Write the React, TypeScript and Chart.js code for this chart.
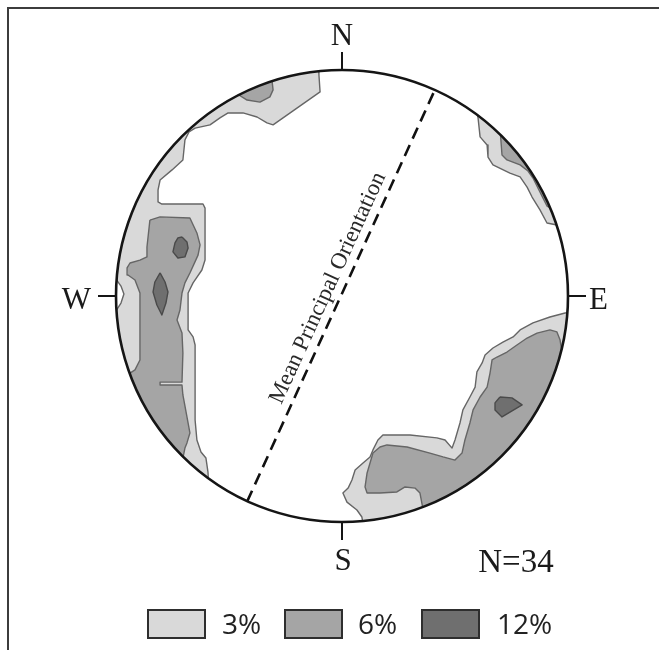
import { useEffect, useRef } from 'react';
import { Chart, registerables } from 'chart.js';

Chart.register(...registerables);

type P = [number, number];

// Stereonet coordinates: primitive circle radius = 100, x = east, y = north.
// Contour polygons may extend past the primitive; they are clipped to it.
const contour3West: P[] = [
  [-10.6, 104.4], [-10.2, 97.8], [-9.7, 90.3], [-30.5, 75.7], [-33.2, 76.6], [-37.6, 79.2],
  [-43.8, 81.0], [-50.4, 81.0], [-54.0, 78.8], [-58.4, 75.7], [-65.0, 74.3], [-67.7, 72.6],
  [-69.5, 69.0], [-70.4, 60.2], [-75.2, 55.8], [-80.5, 51.3], [-81.4, 46.9], [-81.4, 41.6],
  [-79.7, 40.7], [-61.5, 40.7], [-60.6, 38.9], [-60.6, 15.9], [-62.0, 11.5], [-65.9, 5.8],
  [-68.1, 1.3], [-68.1, -15.0], [-65.9, -18.1], [-65.0, -21.7], [-65.0, -54.9], [-64.2, -63.7],
  [-62.4, -69.0], [-60.2, -71.7], [-59.3, -77.9], [-58.9, -85.8], [-85.0, -81.4], [-107.0, -46.0],
  [-103.5, -9.7], [-100.0, -6.6], [-97.8, -3.1], [-96.5, 0.9], [-97.8, 4.4], [-100.0, 7.5],
  [-103.5, 9.7], [-111.5, 42.5], [-93.8, 82.3], [-62.8, 113.3], [-10.6, 113.3],
];
const contour3NE: P[] = [
  [61.1, 86.7], [59.3, 83.2], [60.2, 78.8], [61.1, 70.4], [64.2, 66.8], [64.6, 61.5], [66.8, 58.0],
  [74.3, 54.4], [78.8, 52.7], [81.9, 48.2], [84.1, 43.8], [87.6, 38.1], [90.7, 32.3], [95.1, 31.4],
  [100.9, 31.4], [96.5, 77.9],
];
const contour3SE: P[] = [
  [103.1, -7.1], [98.7, -7.5], [92.0, -9.3], [84.5, -11.9], [78.8, -15.0], [75.7, -18.1],
  [71.2, -20.4], [66.8, -23.0], [63.3, -26.1], [62.0, -29.6], [59.7, -33.6], [58.9, -40.3],
  [56.6, -44.7], [53.5, -50.4], [52.2, -56.2], [50.0, -63.7], [48.7, -67.3], [45.6, -63.7],
  [42.0, -62.8], [30.1, -61.5], [18.1, -61.5], [15.9, -63.7], [13.7, -68.1], [12.4, -71.2],
  [9.3, -73.9], [5.8, -77.0], [4.4, -81.4], [2.7, -85.0], [0.4, -87.2], [2.2, -91.2],
  [6.6, -94.7], [8.8, -97.8], [10.2, -105.8], [61.1, -90.3], [96.5, -54.9], [107.5, -15.0],
];
const contour6North: P[] = [
  [-49.6, 97.8], [-46.5, 89.5], [-42.0, 86.7], [-36.3, 85.8], [-31.9, 88.1], [-30.5, 91.2],
  [-31.0, 95.6], [-29.6, 104.4], [-49.6, 104.0],
];
const contour6West: P[] = [
  [-85.0, 33.6], [-80.5, 35.0], [-67.3, 34.5], [-64.2, 27.9], [-62.8, 22.6], [-63.7, 18.1],
  [-67.3, 10.2], [-69.5, 5.8], [-70.8, 1.3], [-71.7, -6.2], [-73.0, -10.6], [-70.8, -16.4],
  [-70.4, -25.2], [-70.8, -38.1], [-80.5, -38.1], [-80.5, -39.4], [-70.8, -39.4], [-70.4, -43.8],
  [-68.6, -53.5], [-67.3, -60.6], [-68.6, -65.0], [-69.5, -67.3], [-70.4, -71.7], [-76.1, -79.2],
  [-102.7, -46.0], [-95.6, -34.5], [-93.8, -34.1], [-91.6, -32.7], [-89.4, -28.3], [-89.4, 1.3],
  [-91.6, 7.1], [-94.7, 9.3], [-95.1, 12.4], [-93.8, 14.6], [-89.4, 15.9], [-86.3, 17.3],
  [-86.3, 21.7],
];
const contour6NE: P[] = [
  [78.8, 77.9], [70.0, 73.0], [70.8, 62.4], [73.0, 60.2], [78.8, 58.0], [82.3, 55.3], [84.5, 52.2],
  [86.7, 47.8], [88.9, 43.4], [90.7, 39.8], [98.7, 35.8], [90.0, 60.0],
];
const contour6SE: P[] = [
  [107.5, -26.1], [97.5, -26.0], [96.5, -19.5], [95.1, -15.9], [92.0, -15.0], [86.3, -16.4],
  [81.9, -18.6], [77.4, -21.7], [73.0, -24.8], [68.6, -27.0], [66.4, -28.3], [65.5, -34.1],
  [64.2, -40.3], [61.1, -44.7], [58.0, -50.4], [56.6, -56.2], [54.4, -63.7], [53.1, -69.5],
  [50.0, -72.6], [44.7, -71.2], [38.9, -69.5], [28.8, -66.8], [19.9, -65.9], [16.8, -66.8],
  [13.7, -69.5], [12.4, -73.9], [11.1, -78.3], [10.2, -84.5], [11.1, -87.2], [16.8, -87.2],
  [24.3, -86.7], [27.9, -84.5], [32.3, -85.0], [34.5, -87.2], [35.4, -92.0], [36.7, -99.1],
  [80.0, -75.0], [108.0, -40.0],
];
const contour12WestA: P[] = [
  [-70.8, 26.1], [-68.6, 23.9], [-68.1, 21.2], [-69.5, 17.3], [-72.6, 16.8], [-74.8, 19.5],
  [-73.9, 23.5], [-72.6, 25.7],
];
const contour12WestB: P[] = [
  [-80.5, 10.2], [-78.3, 6.2], [-77.0, 1.8], [-77.9, -3.1], [-79.7, -8.4], [-81.9, -4.0],
  [-83.6, 1.8], [-82.8, 6.2],
];
const contour12SE: P[] = [
  [69.9, -44.7], [75.2, -45.1], [79.7, -48.2], [70.8, -53.5], [67.7, -50.4], [67.7, -47.3],
];
const meanOrientation: P[] = [[-42, -91], [41, 91]];
const meanLabelAnchor: P = [-6.2, 3.5];

const levelLabels = ['3%', '6%', '12%'];
const levelColors = ['#d9d9d9', '#a5a5a5', '#6f6f6f'];
const compassLabels = ['N', 'E', 'S', 'W'];
const sampleLabel = 'N=34';
const meanLabel = 'Mean Principal Orientation';

const W = 659;
const H = 650;

function poly(pts: P[], level: number) {
  const data = pts.map(([x, y]) => ({ x, y }));
  data.push({ x: pts[0][0], y: pts[0][1] });
  return {
    data,
    polyFill: levelColors[level],
    borderColor: level === 2 ? '#4a4a4a' : '#666666',
    borderWidth: 1.4,
    borderJoinStyle: 'round',
    pointRadius: 0,
    pointHoverRadius: 0,
    fill: false,
    tension: 0,
    order: 10 - level * 3,
  };
}

function geom(chart: any) {
  const xs = chart.scales.x;
  const ys = chart.scales.y;
  const cx = xs.getPixelForValue(0);
  const cy = ys.getPixelForValue(0);
  const r = xs.getPixelForValue(100) - cx;
  return { cx, cy, r, xs, ys };
}

const stereoPlugin = {
  id: 'stereo',
  beforeDraw(chart: any) {
    const ctx = chart.ctx;
    ctx.save();
    ctx.strokeStyle = '#3c3c3c';
    ctx.lineWidth = 2;
    ctx.beginPath();
    ctx.moveTo(8, H);
    ctx.lineTo(8, 8);
    ctx.lineTo(W, 8);
    ctx.stroke();
    ctx.restore();
  },
  beforeDatasetDraw(chart: any, args: any) {
    const ctx = chart.ctx;
    const { cx, cy, r } = geom(chart);
    ctx.save();
    ctx.beginPath();
    ctx.arc(cx, cy, r, 0, Math.PI * 2);
    ctx.clip();
    const ds = chart.data.datasets[args.index];
    if (ds.polyFill) {
      ctx.beginPath();
      args.meta.data.forEach((p: any, i: number) => {
        if (i === 0) ctx.moveTo(p.x, p.y);
        else ctx.lineTo(p.x, p.y);
      });
      ctx.closePath();
      ctx.fillStyle = ds.polyFill;
      ctx.fill();
    }
  },
  afterDatasetDraw(chart: any) {
    chart.ctx.restore();
  },
  afterDatasetsDraw(chart: any) {
    const ctx = chart.ctx;
    const { cx, cy, r, xs, ys } = geom(chart);
    ctx.save();
    // primitive circle
    ctx.strokeStyle = '#151515';
    ctx.lineWidth = 2.6;
    ctx.beginPath();
    ctx.arc(cx, cy, r, 0, Math.PI * 2);
    ctx.stroke();
    // compass ticks
    const tick = 18;
    ctx.lineWidth = 2;
    ctx.beginPath();
    ctx.moveTo(cx, cy - r); ctx.lineTo(cx, cy - r - tick);
    ctx.moveTo(cx, cy + r); ctx.lineTo(cx, cy + r + tick);
    ctx.moveTo(cx - r, cy); ctx.lineTo(cx - r - tick, cy);
    ctx.moveTo(cx + r, cy); ctx.lineTo(cx + r + tick, cy);
    ctx.stroke();
    // compass labels
    ctx.fillStyle = '#1a1a1a';
    ctx.font = '31px "Liberation Serif", "Times New Roman", serif';
    ctx.textBaseline = 'alphabetic';
    ctx.textAlign = 'center';
    ctx.fillText(compassLabels[0], cx, cy - r - 25);
    ctx.fillText(compassLabels[2], cx + 1, cy + r + 48);
    ctx.textAlign = 'right';
    ctx.fillText(compassLabels[3], cx - r - 25, cy + 13);
    ctx.textAlign = 'left';
    ctx.fillText(compassLabels[1], cx + r + 21, cy + 13);
    // sample size
    ctx.font = '33px "Liberation Serif", "Times New Roman", serif';
    ctx.textAlign = 'center';
    ctx.fillText(sampleLabel, cx + 174, cy + r + 50);
    // mean orientation label, rotated along the dashed line
    const x0 = xs.getPixelForValue(meanOrientation[0][0]);
    const y0 = ys.getPixelForValue(meanOrientation[0][1]);
    const x1 = xs.getPixelForValue(meanOrientation[1][0]);
    const y1 = ys.getPixelForValue(meanOrientation[1][1]);
    const ang = Math.atan2(y1 - y0, x1 - x0);
    ctx.save();
    ctx.translate(xs.getPixelForValue(meanLabelAnchor[0]), ys.getPixelForValue(meanLabelAnchor[1]));
    ctx.rotate(ang);
    ctx.font = '23px "Liberation Serif", "Times New Roman", serif';
    ctx.fillStyle = '#2a2a2a';
    ctx.textAlign = 'center';
    ctx.textBaseline = 'middle';
    ctx.fillText(meanLabel, 0, 0);
    ctx.restore();
    // legend
    const boxX = [148, 285, 422];
    const textX = [222, 358, 497];
    const boxY = 610;
    ctx.font = '28px "Open Sans", "Noto Sans", sans-serif';
    ctx.textAlign = 'left';
    ctx.textBaseline = 'alphabetic';
    levelLabels.forEach((lab, i) => {
      ctx.fillStyle = levelColors[i];
      ctx.fillRect(boxX[i], boxY, 57, 28);
      ctx.strokeStyle = '#2e2e2e';
      ctx.lineWidth = 2;
      ctx.strokeRect(boxX[i], boxY, 57, 28);
      ctx.fillStyle = '#222';
      ctx.fillText(lab, textX[i], 634);
    });
    ctx.restore();
  },
};

export default function App() {
  const ref = useRef<HTMLCanvasElement | null>(null);
  useEffect(() => {
    if (!ref.current) return;
    const datasets: any[] = [
      {
        data: meanOrientation.map(([x, y]) => ({ x, y })),
        borderColor: '#111',
        borderWidth: 2.6,
        borderDash: [12, 7],
        pointRadius: 0,
        pointHoverRadius: 0,
        fill: false,
        tension: 0,
        order: 0,
      },
      poly(contour12WestA, 2),
      poly(contour12WestB, 2),
      poly(contour12SE, 2),
      poly(contour6North, 1),
      poly(contour6West, 1),
      poly(contour6NE, 1),
      poly(contour6SE, 1),
      poly(contour3West, 0),
      poly(contour3NE, 0),
      poly(contour3SE, 0),
    ];
    const chart = new Chart(ref.current, {
      type: 'line',
      data: { datasets },
      options: {
        responsive: false,
        animation: false,
        events: [],
        devicePixelRatio: 1,
        layout: { padding: { left: 116, right: 91, top: 70, bottom: 128 } },
        scales: {
          x: { type: 'linear', min: -100, max: 100, display: false },
          y: { type: 'linear', min: -100, max: 100, display: false },
        },
        plugins: { legend: { display: false }, tooltip: { enabled: false } },
      } as any,
      plugins: [stereoPlugin as any],
    });
    return () => chart.destroy();
  }, []);
  return (
    <div style={{ position: 'absolute', left: 0, top: 0, width: W, height: H, background: '#fff' }}>
      <canvas ref={ref} width={W} height={H} style={{ display: 'block', width: W, height: H }} />
    </div>
  );
}
